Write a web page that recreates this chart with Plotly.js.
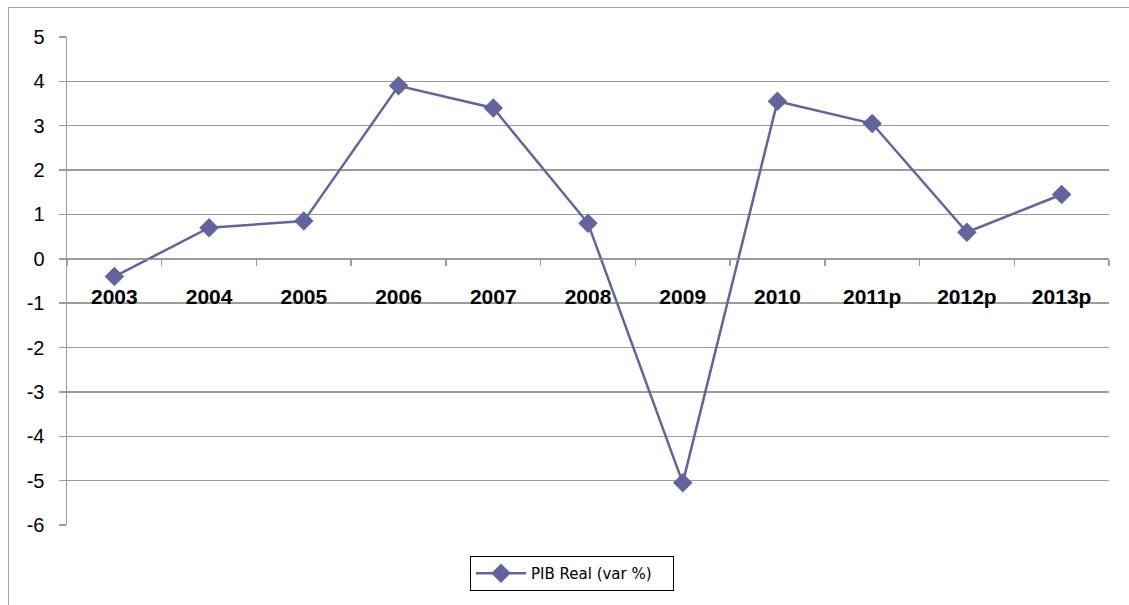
<!DOCTYPE html>
<html>
<head>
<meta charset="utf-8">
<script src="https://cdn.plot.ly/plotly-3.0.1.min.js"></script>
<style>
html,body{margin:0;padding:0;overflow:hidden;background:#fff;}
#chart{width:1129px;height:605px;position:absolute;left:0;top:0;}
#frame{position:absolute;left:8px;top:7px;width:2000px;height:2000px;border:1.5px solid #a6a6a6;pointer-events:none;box-sizing:border-box;}
</style>
</head>
<body>
<div id="chart"></div>
<div id="frame"></div>
<script>
const categories = ["2003","2004","2005","2006","2007","2008","2009","2010","2011p","2012p","2013p"];
const pibReal = [-0.4, 0.7, 0.85, 3.9, 3.4, 0.8, -5.05, 3.55, 3.05, 0.6, 1.45];
const seriesName = "PIB Real (var %)";
const yTicks = [-6,-5,-4,-3,-2,-1,0,1,2,3,4,5];

const grid = "#9c9c9c";
const trace = {
  x: categories, y: pibReal, type: "scatter", mode: "lines+markers", name: seriesName,
  line: {color: "#63639e", width: 2.5},
  marker: {symbol: "diamond", size: 15, color: "#63639e"}
};
const layout = {
  width: 1129, height: 605,
  margin: {l: 67, r: 20, t: 37, b: 80},
  paper_bgcolor: "#fff", plot_bgcolor: "#fff",
  showlegend: true,
  legend: {
    xref: "container", yref: "container", x: 572/1129, y: 1 - 556/605,
    xanchor: "center", yanchor: "top", orientation: "h",
    itemwidth: 50, entrywidth: 137,
    bordercolor: "#000", borderwidth: 1, bgcolor: "#fff",
    font: {family: "DejaVu Sans", size: 15, color: "#000"}
  },
  xaxis: {
    type: "category", anchor: "free", position: 6/11,
    showgrid: false, zeroline: false,
    showline: true, linecolor: grid, linewidth: 1.5,
    ticks: "outside", tickson: "boundaries", ticklen: 6, tickcolor: grid, tickwidth: 1.5,
    ticklabelstandoff: 18,
    tickfont: {family: "Liberation Sans", size: 21, color: "#000", weight: "bold"},
    range: [-0.5, 10.5], fixedrange: true
  },
  yaxis: {
    range: [-6, 5], tickvals: yTicks, ticktext: yTicks.map(String),
    showgrid: true, gridcolor: grid, gridwidth: 1.5,
    zeroline: false,
    showline: true, linecolor: grid, linewidth: 1.5,
    ticks: "outside", ticklen: 7, tickcolor: grid, tickwidth: 1.5,
    ticklabelstandoff: 10,
    tickfont: {family: "Liberation Sans", size: 20, color: "#000"},
    fixedrange: true
  }
};
Plotly.newPlot("chart", [trace], layout, {displayModeBar: false, staticPlot: true});
</script>
</body>
</html>
